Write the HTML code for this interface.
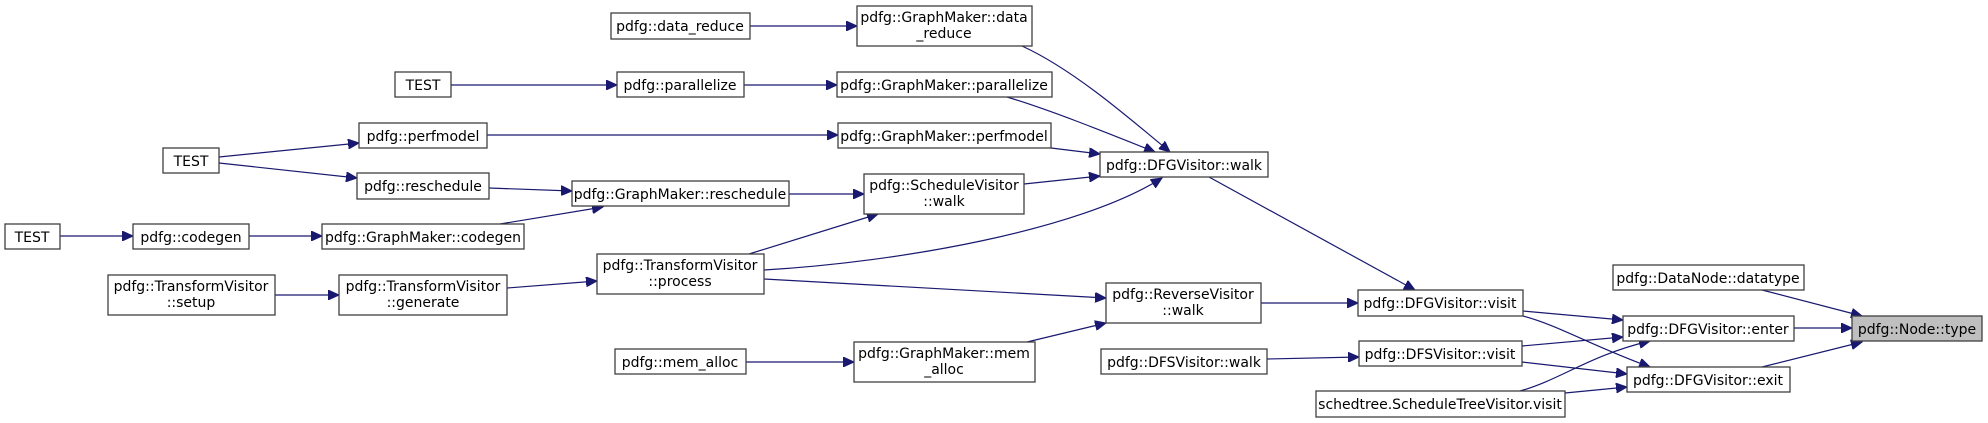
<!DOCTYPE html>
<html><head><meta charset="utf-8"><style>
html,body{margin:0;padding:0;background:#fff;}
svg{display:block;}
text{font-family:"DejaVu Sans","Liberation Sans",sans-serif;font-size:14px;fill:#000;}
rect{fill:#fff;stroke:#404040;stroke-width:1.3;}
path{fill:none;stroke:#191970;stroke-width:1.2;}
</style></head><body>
<svg width="1988" height="423" viewBox="0 0 1988 423" xmlns="http://www.w3.org/2000/svg">
<defs><marker id="a" markerWidth="12" markerHeight="10" refX="11" refY="5" orient="auto" markerUnits="userSpaceOnUse"><polygon points="0,0 11,5 0,10" fill="#191970" stroke="#191970"/></marker></defs>
<g marker-end="url(#a)">
<path d="M750,26 L857,26"/>
<path d="M1022,46 C1070,68 1120,110 1170,152"/>
<path d="M451,85 L617,85"/>
<path d="M744,85 L837,85"/>
<path d="M1007,97 C1050,110 1100,130 1155,152"/>
<path d="M487,135 L838,135"/>
<path d="M1051,148 L1100,154"/>
<path d="M1024,184 L1100,176"/>
<path d="M764,270 C900,262 1080,230 1162,178"/>
<path d="M219,157 L359,143"/>
<path d="M219,163 L357,178"/>
<path d="M489,188 L572,191"/>
<path d="M500,224 L603,207"/>
<path d="M789,194 L864,194"/>
<path d="M60,236 L133,236"/>
<path d="M249,236 L322,236"/>
<path d="M275,295 L339,295"/>
<path d="M507,288 L597,281"/>
<path d="M749,254 L878,214"/>
<path d="M764,279 L1106,298"/>
<path d="M1027,342 L1106,323"/>
<path d="M746,362 L854,362"/>
<path d="M1267,359 L1359,357"/>
<path d="M1209,177 L1415,290"/>
<path d="M1261,303 L1358,303"/>
<path d="M1523,311 L1623,320"/>
<path d="M1523,316 C1560,326 1590,345 1650,367"/>
<path d="M1522,346 L1623,337"/>
<path d="M1522,362 L1627,374"/>
<path d="M1520,391 C1560,380 1590,355 1650,341"/>
<path d="M1565,393 L1627,387"/>
<path d="M1762,290 L1862,316"/>
<path d="M1794,328 L1852,328"/>
<path d="M1762,367 L1862,342"/>
</g>
<g>
<rect x="611" y="13" width="139" height="26"/><text x="680" y="31" text-anchor="middle">pdfg::data_reduce</text>
<rect x="857" y="6" width="175" height="40"/><text x="944" y="22" text-anchor="middle">pdfg::GraphMaker::data</text><text x="944" y="38" text-anchor="middle">_reduce</text>
<rect x="395" y="72" width="56" height="25"/><text x="423" y="90" text-anchor="middle">TEST</text>
<rect x="617" y="72" width="127" height="25"/><text x="680" y="90" text-anchor="middle">pdfg::parallelize</text>
<rect x="837" y="72" width="215" height="25"/><text x="944" y="90" text-anchor="middle">pdfg::GraphMaker::parallelize</text>
<rect x="359" y="123" width="128" height="25"/><text x="423" y="141" text-anchor="middle">pdfg::perfmodel</text>
<rect x="838" y="123" width="213" height="25"/><text x="944" y="141" text-anchor="middle">pdfg::GraphMaker::perfmodel</text>
<rect x="163" y="148" width="56" height="25"/><text x="191" y="166" text-anchor="middle">TEST</text>
<rect x="357" y="173" width="132" height="26"/><text x="423" y="191" text-anchor="middle">pdfg::reschedule</text>
<rect x="572" y="181" width="217" height="25"/><text x="680" y="199" text-anchor="middle">pdfg::GraphMaker::reschedule</text>
<rect x="864" y="174" width="160" height="40"/><text x="944" y="190" text-anchor="middle">pdfg::ScheduleVisitor</text><text x="944" y="206" text-anchor="middle">::walk</text>
<rect x="1100" y="152" width="168" height="25"/><text x="1184" y="170" text-anchor="middle">pdfg::DFGVisitor::walk</text>
<rect x="5" y="224" width="55" height="25"/><text x="32" y="242" text-anchor="middle">TEST</text>
<rect x="133" y="224" width="116" height="25"/><text x="191" y="242" text-anchor="middle">pdfg::codegen</text>
<rect x="322" y="224" width="202" height="25"/><text x="423" y="242" text-anchor="middle">pdfg::GraphMaker::codegen</text>
<rect x="108" y="275" width="167" height="40"/><text x="191" y="291" text-anchor="middle">pdfg::TransformVisitor</text><text x="191" y="307" text-anchor="middle">::setup</text>
<rect x="339" y="275" width="168" height="40"/><text x="423" y="291" text-anchor="middle">pdfg::TransformVisitor</text><text x="423" y="307" text-anchor="middle">::generate</text>
<rect x="597" y="254" width="167" height="40"/><text x="680" y="270" text-anchor="middle">pdfg::TransformVisitor</text><text x="680" y="286" text-anchor="middle">::process</text>
<rect x="1106" y="283" width="155" height="40"/><text x="1183" y="299" text-anchor="middle">pdfg::ReverseVisitor</text><text x="1183" y="315" text-anchor="middle">::walk</text>
<rect x="615" y="349" width="131" height="25"/><text x="680" y="367" text-anchor="middle">pdfg::mem_alloc</text>
<rect x="854" y="342" width="181" height="40"/><text x="944" y="358" text-anchor="middle">pdfg::GraphMaker::mem</text><text x="944" y="374" text-anchor="middle">_alloc</text>
<rect x="1101" y="349" width="166" height="25"/><text x="1184" y="367" text-anchor="middle">pdfg::DFSVisitor::walk</text>
<rect x="1358" y="290" width="165" height="26"/><text x="1440" y="308" text-anchor="middle">pdfg::DFGVisitor::visit</text>
<rect x="1359" y="341" width="163" height="25"/><text x="1440" y="359" text-anchor="middle">pdfg::DFSVisitor::visit</text>
<rect x="1316" y="391" width="249" height="26"/><text x="1440" y="409" text-anchor="middle">schedtree.ScheduleTreeVisitor.visit</text>
<rect x="1613" y="265" width="191" height="25"/><text x="1708" y="283" text-anchor="middle">pdfg::DataNode::datatype</text>
<rect x="1623" y="316" width="171" height="25"/><text x="1708" y="334" text-anchor="middle">pdfg::DFGVisitor::enter</text>
<rect x="1627" y="367" width="163" height="25"/><text x="1708" y="385" text-anchor="middle">pdfg::DFGVisitor::exit</text>
<rect x="1852" y="316" width="130" height="25" style="fill:#bfbfbf"/><text x="1917" y="334" text-anchor="middle">pdfg::Node::type</text>
</g>
</svg>
</body></html>
